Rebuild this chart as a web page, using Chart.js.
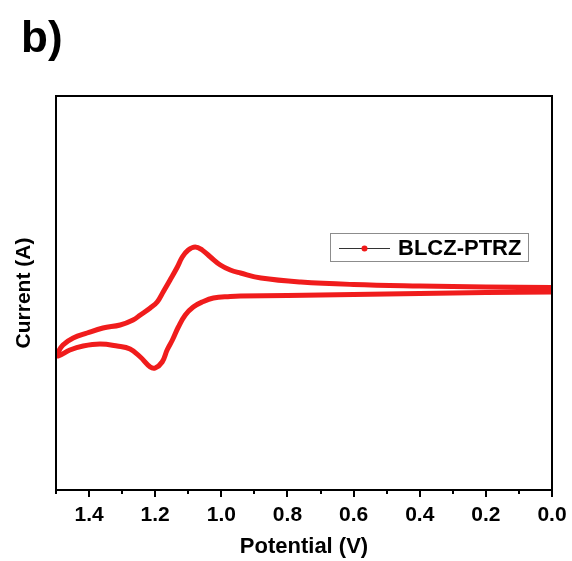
<!DOCTYPE html>
<html>
<head>
<meta charset="utf-8">
<script src="https://cdn.jsdelivr.net/npm/chart.js@4.4.1/dist/chart.umd.min.js"></script>
<style>
  html, body { margin: 0; padding: 0; background: #fff; }
  #wrap { width: 572px; height: 561px; }
</style>
</head>
<body>
<div id="wrap"><canvas id="cv"></canvas></div>
<script>
// valeurs (courant en unités arbitraires)
const seriesName = "BLCZ-PTRZ";
const potentialFwd = [0.00, 0.20, 0.40, 0.60, 0.76, 0.88, 0.942, 0.973, 1.003, 1.033, 1.058, 1.079, 1.100, 1.118, 1.133, 1.155, 1.176, 1.194, 1.215, 1.245, 1.267, 1.306, 1.358, 1.406, 1.448, 1.479, 1.497];
const currentFwd   = [6.95, 7.00, 7.10, 7.25, 7.50, 7.90, 8.40, 8.70, 9.20, 10.0, 10.7, 11.0, 10.7, 10.0, 9.00, 7.70, 6.50, 5.50, 4.90, 4.20, 3.70, 3.20, 2.90, 2.40, 1.90, 1.20, 0.30];
const potentialRev = [1.497, 1.494, 1.458, 1.418, 1.367, 1.315, 1.276, 1.245, 1.215, 1.200, 1.179, 1.164, 1.148, 1.130, 1.109, 1.085, 1.058, 1.024, 0.973, 0.942, 0.80, 0.60, 0.40, 0.20, 0.00];
const currentRev   = [0.30, 0.10, 0.70, 1.10, 1.30, 1.10, 0.80, 0.00, -1.00, -1.10, -0.50, 0.70, 1.70, 3.00, 4.20, 5.00, 5.50, 5.90, 6.05, 6.10, 6.15, 6.25, 6.35, 6.45, 6.50];
const xMin = 0, xMax = 1.5, xStep = 0.1;
const yMin = -13.3, yMax = 26.1;

const FONT = "'Liberation Sans', Arial, sans-serif";

const pts = [];
potentialFwd.forEach((v, i) => pts.push({ x: v, y: currentFwd[i] }));
potentialRev.forEach((v, i) => pts.push({ x: v, y: currentRev[i] }));

const cadre = {
    id: "cadre",
    afterDraw(chart) {
        const { ctx, chartArea: a, scales: { x } } = chart;
        ctx.save();
        ctx.strokeStyle = "#000";
        ctx.lineWidth = 2;
        ctx.strokeRect(a.left, a.top, a.right - a.left, a.bottom - a.top);

        // petits traits de l'axe x
        const n = Math.round((xMax - xMin) / xStep);
        for (let i = 0; i <= n; i++) {
            const px = Math.round(x.getPixelForValue(xMin + i * xStep));
            const len = i % 2 === 0 ? 7 : 4;
            ctx.beginPath();
            ctx.moveTo(px, a.bottom);
            ctx.lineTo(px, a.bottom + len);
            ctx.stroke();
        }

        // légende
        ctx.strokeStyle = "#8c8c8c";
        ctx.lineWidth = 1;
        ctx.strokeRect(330.5, 233.5, 198, 28);
        ctx.strokeStyle = "#333";
        ctx.beginPath();
        ctx.moveTo(339, 248.5);
        ctx.lineTo(390, 248.5);
        ctx.stroke();
        ctx.fillStyle = "#f01818";
        ctx.beginPath();
        ctx.arc(364.5, 248.5, 3, 0, Math.PI * 2);
        ctx.fill();
        ctx.fillStyle = "#000";
        ctx.font = "bold 22px " + FONT;
        ctx.textBaseline = "middle";
        ctx.textAlign = "left";
        ctx.fillText(seriesName, 398, 249);

        // lettre du panneau
        ctx.font = "bold 44px " + FONT;
        ctx.textBaseline = "alphabetic";
        ctx.fillText("b)", 21, 52);
        ctx.restore();
    }
};

new Chart(document.getElementById("cv"), {
    type: "line",
    data: {
        datasets: [{
            label: seriesName,
            data: pts,
            borderColor: "#f01c1c",
            borderWidth: 5,
            pointRadius: 0,
            tension: 0.4,
            fill: false
        }, {
            label: seriesName + " points",
            data: pts,
            borderColor: "#ff8585",
            borderWidth: 2,
            borderDash: [0.1, 3.6],
            borderCapStyle: "round",
            pointRadius: 0,
            tension: 0.4,
            fill: false
        }]
    },
    options: {
        responsive: true,
        maintainAspectRatio: false,
        animation: false,
        layout: { padding: { top: 96, right: 20, left: 0, bottom: 0 } },
        plugins: {
            legend: { display: false },
            tooltip: { enabled: false }
        },
        scales: {
            x: {
                type: "linear",
                min: xMin,
                max: xMax,
                reverse: true,
                grid: { display: false, drawTicks: false },
                border: { display: false },
                ticks: {
                    stepSize: xStep,
                    autoSkip: false,
                    maxRotation: 0,
                    padding: 13,
                    color: "#000",
                    font: { family: FONT, size: 21, weight: "bold" },
                    callback: (v) => Math.round(v * 10) % 2 === 0 ? v.toFixed(1) : ""
                },
                title: {
                    display: true,
                    text: "Potential (V)",
                    color: "#000",
                    font: { family: FONT, size: 22, weight: "bold" },
                    padding: { top: 0, bottom: 1 }
                },
                afterFit: (s) => {
                    s.height = 71;
                    s.paddingLeft = 0;
                    s.paddingRight = 0;
                }
            },
            y: {
                min: yMin,
                max: yMax,
                grid: { display: false, drawTicks: false },
                border: { display: false },
                ticks: { display: false },
                title: {
                    display: true,
                    text: "Current (A)",
                    color: "#000",
                    font: { family: FONT, size: 21, weight: "bold" },
                    padding: { top: 12, bottom: 0 }
                },
                afterFit: (s) => { s.width = 56; }
            }
        }
    },
    plugins: [cadre]
});
</script>
</body>
</html>
